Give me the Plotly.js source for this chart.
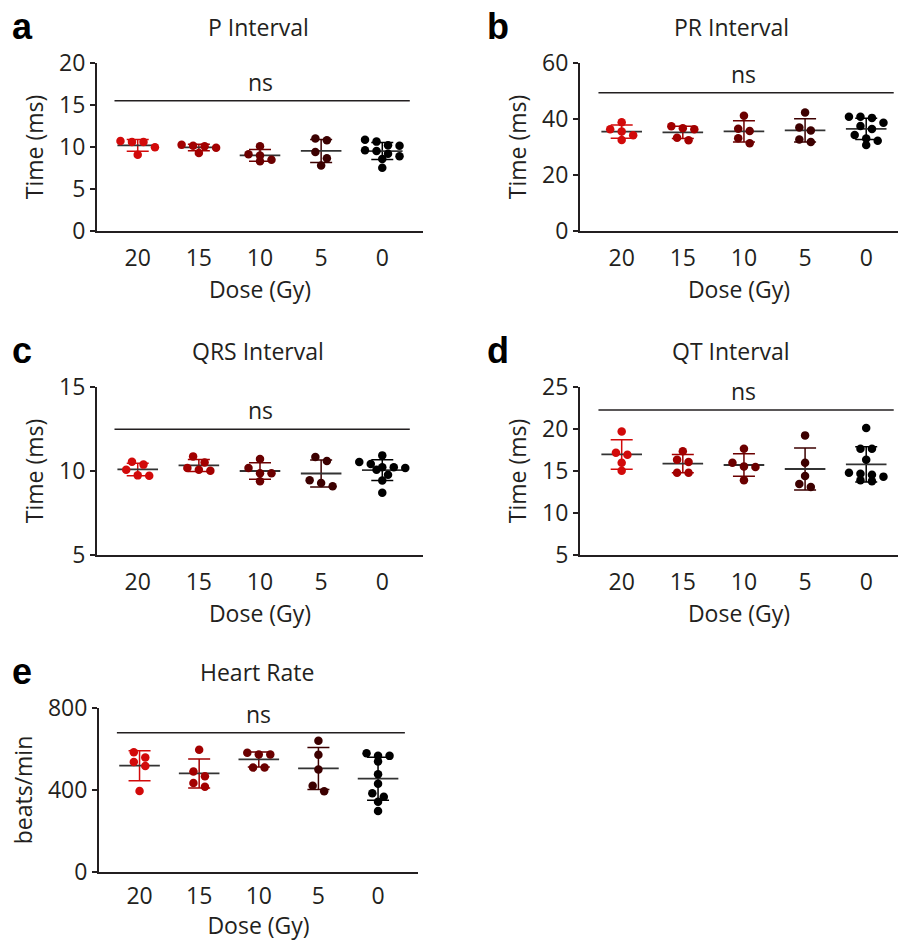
<!DOCTYPE html>
<html><head><meta charset="utf-8">
<script src="https://cdn.plot.ly/plotly-3.0.1.min.js"></script>
<style>html,body{margin:0;padding:0;background:#fff}#chart{width:898px;height:941px}</style>
</head><body><div id="chart"></div>
<script>
// ---- data ----
const doses = ['20', '15', '10', '5', '0'];
const pInterval = [
  [10.72, 10.6, 10.6, 9.09, 9.96],
  [10.08, 10.28, 9.28, 9.92, 10.16],
  [8.29, 9.13, 10.08, 8.49, 9.0],
  [10.8, 11.0, 9.4, 8.65, 7.81],
  [10.87, 10.64, 10.16, 10.2, 9.6, 9.52, 9.2, 8.89, 8.57, 7.53]
];
const prInterval = [
  [36.3, 38.8, 35.5, 34.2, 32.5],
  [36.66, 37.4, 36.3, 33.3, 32.4],
  [41.2, 35.7, 36.5, 33.1, 31.3],
  [42.3, 35.9, 37.0, 32.7, 31.8],
  [40.8, 40.8, 40.4, 38.7, 37.5, 36.4, 34.3, 33.0, 32.2, 30.7]
];
const qrsInterval = [
  [10.55, 10.38, 10.08, 9.72, 9.74],
  [10.5, 10.87, 10.18, 10.02, 10.08],
  [10.71, 10.18, 9.86, 9.86, 9.39],
  [10.83, 10.59, 9.45, 9.29, 9.09],
  [10.93, 10.53, 10.42, 10.22, 10.22, 10.18, 10.08, 9.78, 9.43, 8.71]
];
const qtInterval = [
  [19.71, 16.94, 17.18, 15.99, 15.04],
  [17.34, 16.35, 16.07, 14.8, 14.8],
  [17.65, 15.99, 15.55, 15.48, 13.89],
  [19.24, 15.99, 14.41, 13.46, 13.1],
  [20.11, 17.65, 17.65, 16.35, 14.8, 14.56, 14.68, 14.33, 13.77, 13.89]
];
const heartRate = [
  [584.5, 558.4, 537.1, 517.6, 395.1],
  [595.9, 489.8, 466.9, 434.3, 416.3],
  [581.2, 573.1, 573.1, 509.4, 509.4],
  [640, 571.4, 499.6, 421.2, 393.5],
  [579.6, 566.5, 566.5, 538.8, 476.7, 431, 383.7, 367.3, 342.9, 297.1]
];

// ---- style ----
const groupColors = ['#d20a0a', '#a30000', '#6b0000', '#3c0000', '#000000'];
const FONT = 'Open Sans, Noto Sans, sans-serif';
const FS = 23;
const INK = '#231f20';
const W = 898, H = 941;

const panels = [
  {letter: 'a', title: 'P Interval', data: pInterval, yTitle: 'Time (ms)', range: [0, 20], dtick: 5, bracket: 15.5,
   box: [97, 423, 63, 231], xr: [-0.666, 4.666], xStand: 2, tls: 5},
  {letter: 'b', title: 'PR Interval', data: prInterval, yTitle: 'Time (ms)', range: [0, 60], dtick: 20, bracket: 49.4,
   box: [580, 898, 63, 231], xr: [-0.682, 4.52], xStand: 2, tls: 5},
  {letter: 'c', title: 'QRS Interval', data: qrsInterval, yTitle: 'Time (ms)', range: [5, 15], dtick: 5, bracket: 12.48,
   box: [97, 423, 387, 555], xr: [-0.666, 4.666], xStand: 2, tls: 5},
  {letter: 'd', title: 'QT Interval', data: qtInterval, yTitle: 'Time (ms)', range: [5, 25], dtick: 5, bracket: 22.25,
   box: [580, 898, 387, 555], xr: [-0.682, 4.52], xStand: 2, tls: 5},
  {letter: 'e', title: 'Heart Rate', data: heartRate, yTitle: 'beats/min', range: [0, 800], dtick: 400, bracket: 679,
   box: [99, 418, 708, 872], xr: [-0.68, 4.67], xStand: 3, tls: 2}
];

function mean(a) { return a.reduce((s, v) => s + v, 0) / a.length; }
function sd(a) { const m = mean(a); return Math.sqrt(a.reduce((s, v) => s + (v - m) * (v - m), 0) / (a.length - 1)); }

// Prism-like scatter layout: points with close values share a row, spread side by side
function swarm(vals, pxPerUnit, pxPerCat) {
  const rowPx = 6.5, stepPx = 11.5;
  const idx = vals.map((v, i) => i).sort((a, b) => vals[b] - vals[a]);
  const off = new Array(vals.length).fill(0);
  let row = [];
  const flush = () => { row.forEach((k, j) => { off[k] = (j - (row.length - 1) / 2) * stepPx / pxPerCat; }); row = []; };
  idx.forEach(k => {
    if (row.length && (vals[row[0]] - vals[k]) * pxPerUnit > rowPx) flush();
    row.push(k);
  });
  flush();
  return off;
}

const traces = [], shapes = [], annotations = [];
const layout = {
  width: W, height: H, margin: {l: 0, r: 0, t: 0, b: 0},
  paper_bgcolor: '#fff', plot_bgcolor: '#fff', showlegend: false,
  font: {family: FONT, size: FS, color: INK},
  shapes: shapes, annotations: annotations
};

panels.forEach((p, pi) => {
  const n = pi + 1;
  const xa = 'xaxis' + (n === 1 ? '' : n), ya = 'yaxis' + (n === 1 ? '' : n);
  const xr = 'x' + (n === 1 ? '' : n), yr = 'y' + (n === 1 ? '' : n);
  const [x0, x1, y0, y1] = p.box;
  const pxPerUnit = (y1 - y0) / (p.range[1] - p.range[0]);
  const pxPerCat = (x1 - x0) / (p.xr[1] - p.xr[0]);

  layout[xa] = {
    domain: [x0 / W, x1 / W], range: p.xr, anchor: yr,
    tickvals: doses.map((d, i) => i), ticktext: doses,
    showline: true, linecolor: INK, linewidth: 2, ticks: '', showgrid: false, zeroline: false,
    ticklabelstandoff: p.tls, tickfont: {size: FS, family: FONT, color: INK},
    title: {text: 'Dose (Gy)', font: {size: FS, family: FONT, color: INK}, standoff: p.xStand}
  };
  layout[ya] = {
    domain: [1 - y1 / H, 1 - y0 / H], range: p.range, dtick: p.dtick, tick0: 0, anchor: xr,
    showline: true, linecolor: INK, linewidth: 2, ticks: 'outside', ticklen: 5, tickwidth: 1.5, tickcolor: INK,
    showgrid: false, zeroline: false, tickfont: {size: FS, family: FONT, color: INK},
    title: {text: p.yTitle, font: {size: FS, family: FONT, color: INK}, standoff: 9}
  };

  p.data.forEach((vals, gi) => {
    const m = mean(vals), s = sd(vals);
    traces.push({
      type: 'scatter', mode: 'markers', xaxis: xr, yaxis: yr, x: [gi], y: [m],
      marker: {symbol: 'line-ew', size: 29, color: '#333', line: {color: '#333', width: 1.8}},
      error_y: {type: 'data', array: [s], visible: true, color: groupColors[gi], thickness: 1.5, width: 11},
      hoverinfo: 'skip'
    });
  });
  p.data.forEach((vals, gi) => {
    const off = swarm(vals, pxPerUnit, pxPerCat);
    traces.push({
      type: 'scatter', mode: 'markers', xaxis: xr, yaxis: yr, name: doses[gi] + ' Gy',
      x: vals.map((v, i) => gi + off[i]), y: vals,
      marker: {size: 8.5, color: groupColors[gi], line: {width: 0}}
    });
  });

  // significance bracket
  shapes.push({type: 'line', xref: xr, yref: yr, x0: -0.38, x1: 4.45, y0: p.bracket, y1: p.bracket,
    line: {color: INK, width: 1.5}});
  annotations.push({xref: xr, yref: yr, x: 2, y: p.bracket, yanchor: 'bottom', yshift: 1, showarrow: false,
    text: 'ns', font: {size: FS, family: FONT, color: INK}});
  // panel title
  annotations.push({xref: 'paper', yref: 'paper', x: ((x0 + x1) / 2 + (pi % 2 === 1 ? -8 : -2)) / W, y: 1 - (y0 - 36) / H,
    xanchor: 'center', yanchor: 'middle', showarrow: false, text: p.title,
    font: {size: FS, family: FONT, color: INK}});
  // panel letter
  annotations.push({xref: 'paper', yref: 'paper', x: (pi % 2 === 1 ? 485 : 10) / W, y: 1 - (y0 - 37) / H,
    xanchor: 'left', yanchor: 'middle', showarrow: false, text: '<b>' + p.letter + '</b>',
    font: {size: 36, family: 'Liberation Sans, Arial, sans-serif', color: '#000'}});
});

Plotly.newPlot('chart', traces, layout, {staticPlot: true});
</script>
</body></html>
